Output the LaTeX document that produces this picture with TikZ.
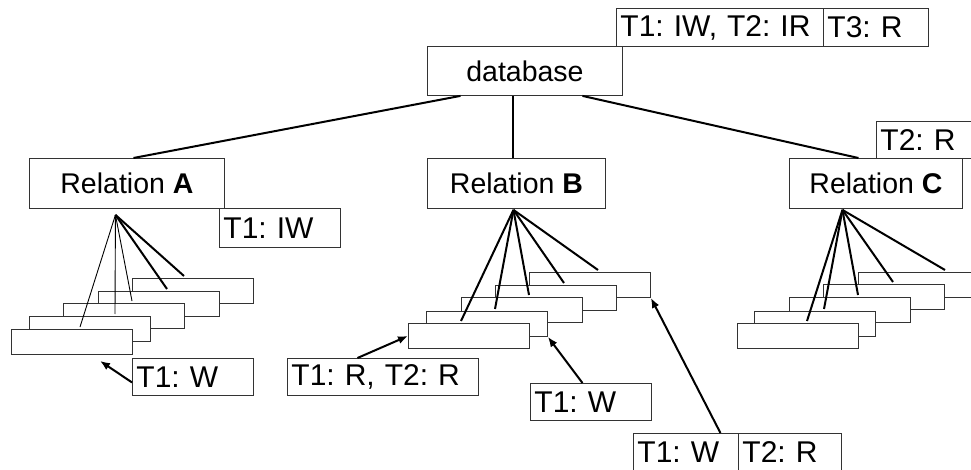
\documentclass[tikz,border=0pt]{standalone}
\usepackage{fontspec}
\setmainfont{Liberation Sans}
\usetikzlibrary{arrows.meta}
\tikzset{
  box/.style={draw=black!80,fill=white,line width=0.9pt,inner sep=0pt,anchor=north west},
  lock/.style={box,align=left,inner xsep=4pt,inner ysep=0pt,text width=#1,
    font=\fontsize{30}{32}\selectfont},
  rec/.style={box,minimum width=121pt,minimum height=25pt},
  link/.style={line width=2pt},
  thinlink/.style={line width=0.9pt},
  ptr/.style={line width=2pt,-{Latex[length=10pt,width=8pt]}}
}
\frenchspacing
\begin{document}
\begin{tikzpicture}[x=1pt,y=-1pt]
        \useasboundingbox (0,0) rectangle (971,470);
        \clip (0,0) rectangle (971,470);
        \fontsize{28.5}{32}\selectfont
        % tree
        \node[box,minimum width=195pt,minimum height=49pt] (db) at (427,46) {database};
        \node[lock=199pt,minimum height=38pt] (lkdb) at (616,8) {T1: IW, T2: IR};
        \node[lock=97pt,minimum height=38pt] (lkdbb) at (823,8) {T3: R};
        \node[lock=113pt,minimum height=37pt] (lkC) at (876,121) {T2: R};
        \node[box,minimum width=195pt,minimum height=50pt] (relA) at (29,158) {Relation \textbf{A}};
        \node[box,minimum width=178pt,minimum height=50pt] (relB) at (427,158) {Relation \textbf{B}};
        \node[box,minimum width=173pt,minimum height=50pt] (relC) at (789,158) {Relation \textbf{C}};
        \node[lock=113pt,minimum height=39pt] (lkA) at (219,208) {T1: IW};
        \draw[link] ([xshift=-64.5pt]db.south) -- ([xshift=6.5pt]relA.north);
        \draw[link] ([xshift=-11.5pt]db.south) -- ([xshift=-3pt]relB.north);
        \draw[link] ([xshift=57.5pt]db.south) -- ([xshift=-17.5pt]relC.north);
        % records
        \foreach \n/\x/\y in {5/132/278,4/98/291,3/63/303,2/29/316,1/11/329}
          \node[rec] (a\n) at (\x,\y) {};
        \foreach \n/\x/\y in {5/529/272,4/495/285,3/461/297,2/426/311,1/408/323}
          \node[rec] (b\n) at (\x,\y) {};
        \foreach \n/\x/\y in {5/858/272,4/823/284,3/789/297,2/754/311,1/737/323}
          \node[rec] (c\n) at (\x,\y) {};
        \coordinate (ra) at ([xshift=-11.5pt,yshift=-6pt]relA.south);
        \coordinate (rb) at ([xshift=-3pt,yshift=-1pt]relB.south);
        \coordinate (rc) at ([xshift=-33.5pt,yshift=-1pt]relC.south);
        \foreach \n/\dx in {1/69,2/86,3/69}
          \draw[thinlink] (ra) -- ([xshift=\dx pt,yshift=2pt]a\n.north west);
        \foreach \n/\dx in {4/69,5/52}
          \draw[link] (ra) -- ([xshift=\dx pt,yshift=2pt]a\n.north west);
        \foreach \n/\dx in {1/53,2/69,3/68,4/69,5/69}
          \draw[link] (rb) -- ([xshift=\dx pt,yshift=2pt]b\n.north west);
        \foreach \n/\dx in {1/70,2/70,3/69,4/70,5/87}
          \draw[link] (rc) -- ([xshift=\dx pt,yshift=2pt]c\n.north west);
        % locks on records
        \node[lock=113pt,minimum height=37pt] (wA) at (132,358) {T1: W};
        \node[lock=183pt,minimum height=37pt] (rB) at (287,358) {T1: R, T2: R};
        \node[lock=113pt,minimum height=37pt] (wB) at (530,383) {T1: W};
        \node[lock=97pt,minimum height=37pt] (wBB) at (633,433) {T1: W};
        \node[lock=95pt,minimum height=37pt] (rBB) at (738,433) {T2: R};
        \draw[ptr] ([yshift=-5.5pt]wA.west) -- ([xshift=89pt,yshift=-6pt]a1.south west);
        \draw[ptr] ([xshift=-25.5pt]rB.north) -- (b1.west);
        \draw[ptr] ([xshift=-8.5pt]wB.north) -- (b2.south east);
        \draw[ptr] ([xshift=34.5pt]wBB.north) -- (b5.south east);
\end{tikzpicture}
\end{document}
